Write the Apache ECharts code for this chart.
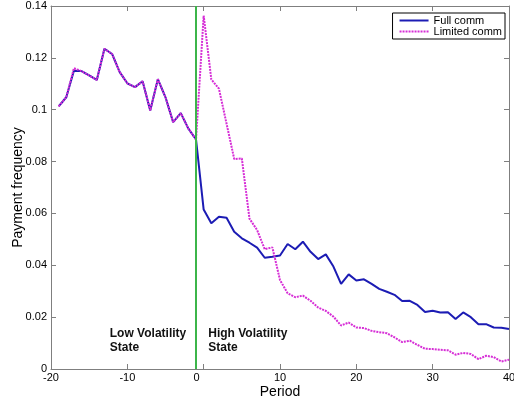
<!DOCTYPE html>
<html>
<head>
<meta charset="utf-8">
<script src="https://cdn.jsdelivr.net/npm/echarts@6/dist/echarts.min.js"></script>
<style>
  html, body { margin: 0; padding: 0; background: #fff; }
  #chart { width: 514px; height: 406px; }
</style>
</head>
<body>
<div id="chart"></div>
<script>
// periods run from -19 to 40, one value per period
const firstPeriod = -19
const fullComm = [
  0.1013, 0.1048, 0.1150, 0.1149, 0.1132, 0.1115, 0.1235, 0.1215, 0.1145, 0.1102,
  0.1087, 0.1110, 0.0997, 0.1118, 0.1048, 0.0952, 0.0987, 0.0927, 0.0885,
  0.0615, 0.0562, 0.0587, 0.0583, 0.0529, 0.0504, 0.0487, 0.0468, 0.0429, 0.0433,
  0.0438, 0.0482, 0.0462, 0.0491, 0.0452, 0.0424, 0.0442, 0.0395, 0.0328, 0.0365,
  0.0341, 0.0346, 0.0328, 0.0309, 0.0298, 0.0286, 0.0262, 0.0263, 0.0247, 0.0220,
  0.0225, 0.0218, 0.0219, 0.0193, 0.0218, 0.0200, 0.0173, 0.0173, 0.0160, 0.0159,
  0.0154
]
const limitedComm = [
  0.1013, 0.1048, 0.1160, 0.1149, 0.1132, 0.1115, 0.1235, 0.1215, 0.1145, 0.1102,
  0.1087, 0.1110, 0.0997, 0.1118, 0.1048, 0.0952, 0.0987, 0.0927, 0.0885,
  0.1363, 0.1117, 0.1081, 0.0946, 0.0810, 0.0812, 0.0580, 0.0536, 0.0462, 0.0469,
  0.0343, 0.0292, 0.0277, 0.0283, 0.0263, 0.0237, 0.0224, 0.0202, 0.0168, 0.0179,
  0.0160, 0.0158, 0.0147, 0.0142, 0.0138, 0.0122, 0.0104, 0.0109, 0.0093, 0.0078,
  0.0077, 0.0074, 0.0072, 0.0055, 0.0062, 0.0058, 0.0038, 0.0051, 0.0046, 0.0029,
  0.0036
]
const seriesNames = ['Full comm', 'Limited comm']
const switchPeriod = -1
const notes = [
  { text: 'Low Volatility\nState', x: -12.3, y: 0.0165 },
  { text: 'High Volatility\nState', x: 0.6, y: 0.0163 }
]

const font = 'Liberation Sans, Arial, sans-serif'
const axisGray = '#7f7f7f'

const toPoints = (vals) => vals.map((v, i) => [firstPeriod + i, v])

const chart = echarts.init(document.getElementById('chart'))

const boxAxis = (extra) => Object.assign({
  axisLine: { show: true, onZero: false, lineStyle: { color: axisGray, width: 1 } },
  axisTick: { show: true, inside: true, length: 5, lineStyle: { color: axisGray } },
  splitLine: { show: false }
}, extra)

chart.setOption({
  animation: false,
  textStyle: { fontFamily: font },
  grid: { left: 51, right: 5, top: 6, bottom: 37, outerBoundsMode: 'none', containLabel: false },
  legend: {
    data: seriesNames,
    orient: 'vertical',
    right: 9,
    top: 13,
    padding: [2, 3, 2, 6],
    itemWidth: 29,
    itemHeight: 11,
    itemGap: 0,
    borderColor: '#000',
    borderWidth: 1,
    backgroundColor: '#fff',
    borderRadius: 0,
    itemStyle: { opacity: 0 },
    textStyle: { fontSize: 11, color: '#000', lineHeight: 11, fontFamily: font }
  },
  xAxis: [
    boxAxis({
      type: 'value', min: -20, max: 40, interval: 10,
      name: 'Period', nameLocation: 'middle', nameGap: 16, nameMoveOverlap: false,
      nameTextStyle: { fontSize: 14, color: '#000', fontFamily: font },
      axisLabel: {
        fontSize: 11, color: '#000', margin: 3,
        formatter: (v) => (v === 0 ? '{z|0}' : String(v)),
        rich: { z: { fontSize: 11, color: '#000', padding: [0, 14, 0, 0] } }
      }
    }),
    boxAxis({ type: 'value', min: -20, max: 40, interval: 10, position: 'top', axisLabel: { show: false } })
  ],
  yAxis: [
    boxAxis({
      type: 'value', min: 0, max: 0.14, interval: 0.02,
      name: 'Payment frequency', nameLocation: 'middle', nameGap: 26, nameMoveOverlap: false,
      nameTextStyle: { fontSize: 14, color: '#000', fontFamily: font },
      axisLabel: { fontSize: 11, color: '#000', margin: 4 }
    }),
    boxAxis({ type: 'value', min: 0, max: 0.14, interval: 0.02, position: 'right', axisLabel: { show: false } })
  ],
  series: [
    {
      name: seriesNames[0],
      type: 'line',
      data: toPoints(fullComm),
      symbol: 'none',
      color: '#1c1cb4',
      lineStyle: { width: 2, color: '#1c1cb4' },
      markLine: {
        silent: true,
        symbol: 'none',
        label: { show: false },
        lineStyle: { color: '#3cb54a', width: 2, type: 'solid' },
        data: [{ xAxis: switchPeriod }]
      },
      z: 2
    },
    {
      name: seriesNames[1],
      type: 'line',
      data: toPoints(limitedComm),
      symbol: 'none',
      color: '#d62ed6',
      lineStyle: { width: 2, color: '#d62ed6', type: [2, 1] },
      z: 3
    }
  ]
})

// annotation text anchored to data coordinates
chart.setOption({
  graphic: notes.map((n) => {
    const p = chart.convertToPixel({ gridIndex: 0 }, [n.x, n.y])
    return {
      type: 'text',
      left: p[0],
      top: p[1],
      style: {
        text: n.text,
        font: 'bold 12px ' + font,
        fill: '#111',
        lineHeight: 14
      }
    }
  })
})
</script>
</body>
</html>
